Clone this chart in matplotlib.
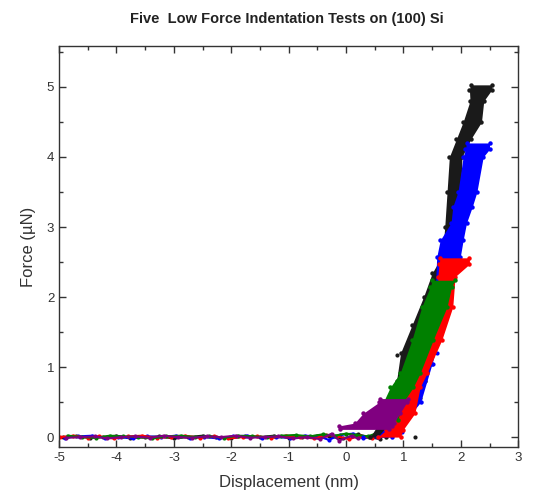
import matplotlib
matplotlib.use("Agg")
import matplotlib.pyplot as plt
from matplotlib.ticker import MultipleLocator

plt.rcParams['font.family'] = ['Liberation Sans', 'DejaVu Sans']
plt.rcParams['axes.unicode_minus'] = False

# ---- colours of the five tests ----
C_BLACK = '#1a1a1a'
C_BLUE = '#0000ff'
C_RED = '#ff0000'
C_GREEN = '#008000'
C_PURPLE = '#800080'

# ---- loading bands: force levels, left and right displacement edges ----
black_F = [0.0, 0.36, 0.8, 1.2, 1.6, 2.0, 2.34, 2.6, 3.0, 3.5, 4.0, 4.25, 4.5, 4.8, 4.96, 5.03]
black_L = [0.42, 0.7, 0.88, 0.95, 1.15, 1.35, 1.5, 1.68, 1.72, 1.76, 1.8, 1.92, 2.04, 2.16, 2.15, 2.17]
black_R = [0.7, 1.1, 1.38, 1.45, 1.6, 1.72, 1.82, 1.88, 1.93, 2.0, 2.02, 2.17, 2.36, 2.4, 2.54, 2.54]

blue_F = [0.0, 0.5, 1.05, 1.6, 2.0, 2.57, 2.81, 3.06, 3.29, 3.5, 4.0, 4.11, 4.2]
blue_L = [0.55, 1.05, 1.3, 1.48, 1.55, 1.58, 1.64, 1.83, 1.86, 1.95, 2.04, 2.08, 2.1]
blue_R = [0.8, 1.3, 1.5, 1.68, 1.78, 1.99, 2.04, 2.1, 2.2, 2.28, 2.39, 2.5, 2.5]

red_F = [0.0, 0.1, 0.34, 0.71, 0.91, 1.39, 1.86, 2.29, 2.47, 2.56]
red_L = [0.55, 0.7, 0.94, 1.05, 1.15, 1.4, 1.6, 1.6, 1.62, 1.64]
red_R = [0.95, 0.99, 1.2, 1.29, 1.41, 1.67, 1.86, 1.9, 2.15, 2.15]

green_F = [0.25, 0.5, 0.71, 0.91, 1.39, 1.86, 2.15, 2.24]
green_L = [0.55, 0.65, 0.77, 0.94, 1.15, 1.32, 1.47, 1.5]
green_R = [0.9, 1.0, 1.17, 1.29, 1.52, 1.76, 1.84, 1.9]

purple_F = [0.11, 0.16, 0.2, 0.34, 0.5, 0.55]
purple_L = [-0.1, -0.12, 0.15, 0.3, 0.58, 0.6]
purple_R = [0.75, 0.8, 0.83, 0.94, 1.06, 1.08]

# ---- baseline (before contact) points ----
black_bx = [-4.94, -4.7, -4.46, -4.24, -4.0, -3.76, -3.5, -3.26, -3.0, -2.76, -2.5, -2.26,
            -2.0, -1.76, -1.5, -1.26, -1.0, -0.76, -0.5, -0.3, -0.05, 0.2, 0.4, 0.6]
black_bF = [0.0, 0.01, -0.01, 0.0, 0.02, -0.01, 0.0, 0.01, -0.02, 0.0, 0.02, 0.0,
            -0.01, 0.01, 0.0, 0.02, -0.01, 0.0, 0.02, 0.01, -0.02, 0.04, 0.0, -0.03]
blue_bx = [-4.9, -4.67, -4.42, -4.2, -3.97, -3.72, -3.47, -3.22, -2.97, -2.72, -2.47, -2.22,
           -1.97, -1.72, -1.47, -1.22, -0.97, -0.72, -0.47, -0.3, -0.1, 0.12, 0.3, 0.5]
blue_bF = [-0.01, 0.01, 0.02, -0.01, 0.0, -0.02, 0.01, 0.0, 0.02, -0.01, 0.0, -0.02,
           0.01, 0.02, -0.01, 0.0, -0.01, 0.02, 0.01, -0.04, 0.03, 0.05, -0.02, 0.01]
red_bx = [-4.98, -4.75, -4.5, -4.3, -4.05, -3.8, -3.55, -3.3, -3.05, -2.8, -2.55, -2.3,
          -2.05, -1.8, -1.55, -1.3, -1.05, -0.8, -0.55, -0.35, -0.15, 0.05, 0.25, 0.45]
red_bF = [0.0, 0.02, -0.01, 0.01, -0.02, 0.01, 0.02, -0.01, 0.0, 0.02, -0.01, 0.01,
          -0.02, 0.0, 0.01, -0.01, 0.02, 0.0, -0.02, 0.03, 0.01, -0.03, 0.02, -0.02]
green_bx = [-4.85, -4.6, -4.35, -4.12, -3.88, -3.63, -3.38, -3.13, -2.88, -2.63, -2.38, -2.13,
            -1.88, -1.63, -1.38, -1.13, -0.88, -0.63, -0.4, -0.2, 0.0, 0.18, 0.38, 0.55]
green_bF = [0.02, 0.0, -0.01, 0.02, 0.01, 0.0, -0.02, 0.01, 0.02, 0.0, 0.01, -0.01,
            0.02, 0.01, 0.0, 0.02, 0.03, 0.01, 0.04, 0.02, 0.05, 0.03, 0.01, 0.06]
purple_bx = [-4.88, -4.63, -4.38, -4.16, -3.92, -3.68, -3.42, -3.18, -2.92, -2.68, -2.42, -2.18,
             -1.92, -1.68, -1.42, -1.18, -0.92, -0.68, -0.45, -0.25, -0.12, 0.1, 0.2]
purple_bF = [-0.01, 0.0, 0.01, -0.02, 0.0, 0.01, -0.01, 0.02, 0.0, -0.01, 0.01, 0.0,
             0.02, -0.01, 0.0, 0.01, -0.02, 0.0, -0.03, 0.05, -0.05, 0.02, -0.02]

# scattered stray points near contact
stray_black_x = [0.89, 1.11, 1.41, 1.29, 1.08, 0.55, 1.58, 0.8, 1.2]
stray_black_F = [1.17, 1.29, 2.0, 0.56, 0.36, 0.02, 2.34, 0.05, 0.0]
stray_blue_x = [0.97, 1.52, 1.58, 1.41, 0.3, 1.55]
stray_blue_F = [0.07, 1.05, 1.2, 1.03, 0.0, 1.3]

x_ticks = [-5, -4, -3, -2, -1, 0, 1, 2, 3]
y_ticks = [0, 1, 2, 3, 4, 5]

fig = plt.figure(figsize=(5.37, 4.99), dpi=100)
ax = fig.add_axes([0.110, 0.104, 0.855, 0.804])

series = [
    (black_bx, black_bF, black_F, black_L, black_R, C_BLACK),
    (blue_bx, blue_bF, blue_F, blue_L, blue_R, C_BLUE),
    (red_bx, red_bF, red_F, red_L, red_R, C_RED),
    (green_bx, green_bF, green_F, green_L, green_R, C_GREEN),
    (purple_bx, purple_bF, purple_F, purple_L, purple_R, C_PURPLE),
]

# baselines
for bx, bF, F, L, R, c in series:
    ax.plot(bx, bF, '-o', color=c, lw=1.5, ms=3.0, mec='none', zorder=2)

# loading bands
z = 3
for bx, bF, F, L, R, c in series:
    ax.fill_betweenx(F, L, R, color=c, lw=0, zorder=z)
    ax.plot(L, F, 'o', color=c, ms=3.2, mec='none', zorder=z)
    ax.plot(R, F, 'o', color=c, ms=3.2, mec='none', zorder=z)
    z += 1
    if c == C_BLACK:
        ax.plot(stray_black_x, stray_black_F, 'o', color=c, ms=3, mec='none', zorder=z)
    if c == C_BLUE:
        ax.plot(stray_blue_x, stray_blue_F, 'o', color=c, ms=3, mec='none', zorder=z)

ax.set_xlim(-5, 3)
ax.set_ylim(-0.143, 5.586)
ax.set_xticks(x_ticks)
ax.set_yticks(y_ticks)
ax.xaxis.set_minor_locator(MultipleLocator(0.5))
ax.yaxis.set_minor_locator(MultipleLocator(0.5))
ax.tick_params(which='both', direction='in', top=True, right=True, color='#333333',
               labelsize=9.5, labelcolor='#333333')
ax.tick_params(which='major', length=5, width=1)
ax.tick_params(which='minor', length=3, width=1)
for s in ax.spines.values():
    s.set_color('#333333')
    s.set_linewidth(1.0)

ax.set_xlabel('Displacement (nm)', fontsize=12, color='#333333', labelpad=8)
ax.set_ylabel('Force (\u00b5N)', fontsize=12, color='#333333', labelpad=8)
fig.text(0.535, 0.962, 'Five  Low Force Indentation Tests on (100) Si',
         ha='center', va='center', fontsize=10.5, fontweight='bold', color='#222222')

fig.savefig('out.png', dpi=100)
